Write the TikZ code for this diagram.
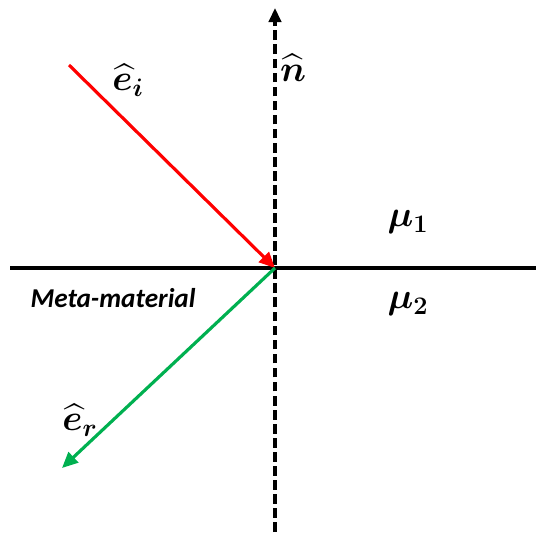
\documentclass[tikz,border=0pt]{standalone}
\usepackage{amsmath}
\usepackage{bm}
\usepackage{fontspec}
\newfontfamily\labelfont{Carlito}
\usetikzlibrary{arrows.meta}
\definecolor{ergreen}{RGB}{0,176,80}

\begin{document}
\begin{tikzpicture}[x=0.02cm,y=-0.02cm,
    axis/.style={line width=2.4pt},
    ray/.style={line width=1.8pt,-{Triangle[length=9pt,width=8pt]}},
    lbl/.style={font=\fontsize{21}{23}\selectfont}]
      \useasboundingbox (0,0) rectangle (536,538);
      \coordinate (O) at (275,268);
      \coordinate (hleft) at (10,268);
      \coordinate (hright) at (536,268);
      \coordinate (nbot) at (275,532);
      \coordinate (ntop) at (275,8);
      \coordinate (itail) at (69,65);
      \coordinate (rhead) at (62,468);

      \draw[axis] (hleft) -- (hright);
      \draw[axis,dash pattern=on 5.5pt off 2.5pt,-{Triangle[length=8pt,width=7pt]}] (nbot) -- (ntop);
      \draw[ray,red] (itail) -- (O);
      \draw[ray,ergreen] (O) -- (rhead);

      \node[lbl] (ei) at (128,80) {$\widehat{\bm e}_{\bm i}$};
      \node[lbl] (n) at (293,68) {$\widehat{\bm n}$};
      \node[lbl] (mu1) at (408,222) {$\bm{\mu}_{\bm 1}$};
      \node[lbl] (mu2) at (408,304) {$\bm{\mu}_{\bm 2}$};
      \node[lbl] (er) at (80,420) {$\widehat{\bm e}_{\bm r}$};
      \node[font=\labelfont\bfseries\itshape\fontsize{15.5}{17}\selectfont] (meta) at (113,298) {Meta-material};
    \end{tikzpicture}
\end{document}
